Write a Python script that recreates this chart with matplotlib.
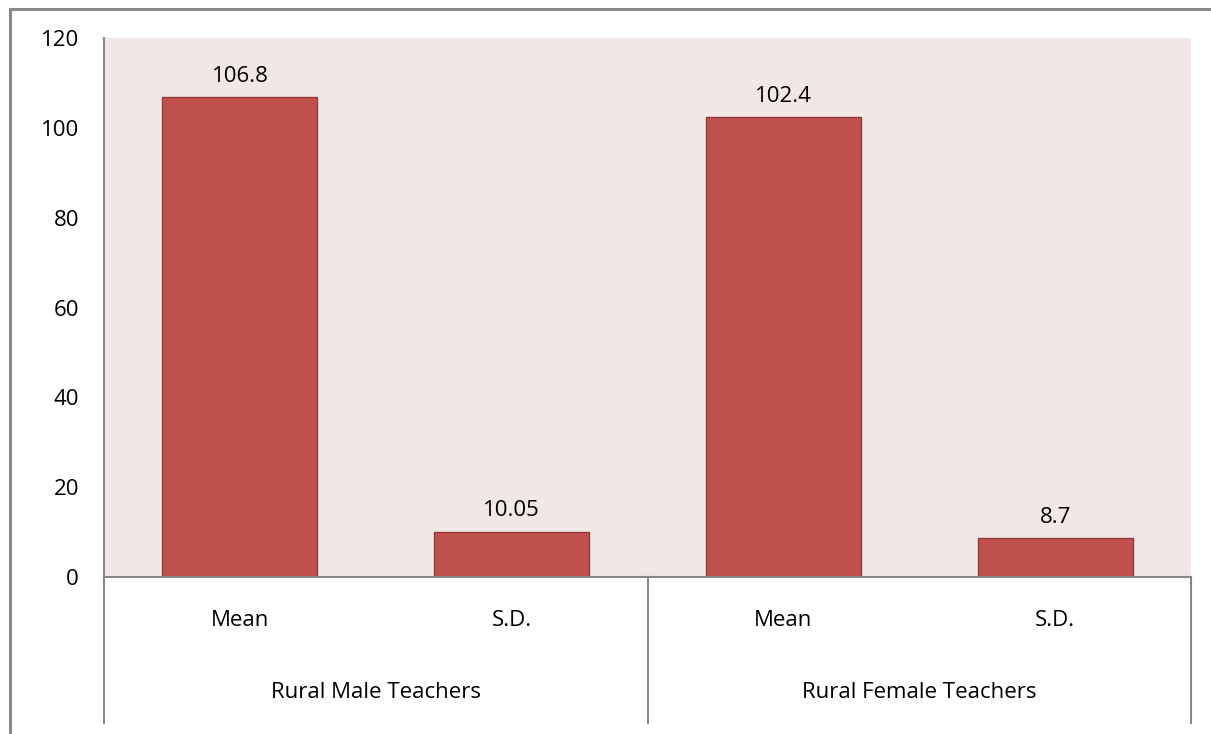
import matplotlib
matplotlib.use("Agg")
import matplotlib.pyplot as plt
from matplotlib.lines import Line2D

groups = ["Rural Male Teachers", "Rural Female Teachers"]
stats = ["Mean", "S.D."]
values = [106.8, 10.05, 102.4, 8.7]
value_labels = ["106.8", "10.05", "102.4", "8.7"]
yticks = [0, 20, 40, 60, 80, 100, 120]

plt.rcParams['font.family'] = ['Open Sans', 'DejaVu Sans']
FS = 16

W, H = 1211, 734
fig = plt.figure(figsize=(W / 100, H / 100), dpi=100)
fig.patch.set_facecolor('white')

# outer chart border (top and left visible)
fig.add_artist(Line2D([9.5 / W, 1.0], [1 - 8.5 / H, 1 - 8.5 / H], transform=fig.transFigure,
                      color='#888888', lw=2.2))
fig.add_artist(Line2D([9.5 / W, 9.5 / W], [0, 1 - 8.5 / H], transform=fig.transFigure,
                      color='#888888', lw=2.2))

left, right, top, bottom = 104, 1191, 38, 577
ax = fig.add_axes([left / W, 1 - bottom / H, (right - left) / W, (bottom - top) / H])
ax.set_facecolor('#F2E7E7')

n = len(values)
xs = list(range(n))
ax.bar(xs, values, width=0.57, color='#C0504D', edgecolor='#8E3A38', linewidth=1.0, zorder=2)
for x, v, lab in zip(xs, values, value_labels):
    ax.annotate(lab, (x, v), xytext=(0, 7.5), textcoords='offset points',
                ha='center', va='bottom', fontsize=FS, color='black')

ax.set_xlim(-0.5, n - 0.5)
ax.set_ylim(0, 120)
ax.set_yticks(yticks)
ax.set_yticklabels([str(t) for t in yticks], fontsize=FS)
ax.tick_params(axis='y', length=0, pad=18)
ax.set_xticks([])

for s in ['top', 'right']:
    ax.spines[s].set_visible(False)
for s in ['left', 'bottom']:
    ax.spines[s].set_color('#878787')
    ax.spines[s].set_linewidth(1.5)

# multi-level category axis
tb = ax.get_xaxis_transform()
ph = bottom - top
y_stat = -(620 - bottom) / ph
y_group = -(693 - bottom) / ph
y_end = -(723 - bottom) / ph
for i, x in enumerate(xs):
    ax.text(x, y_stat, stats[i % len(stats)], transform=tb, ha='center', va='center', fontsize=FS)
for g, name in enumerate(groups):
    cx = g * len(stats) + (len(stats) - 1) / 2
    ax.text(cx, y_group, name, transform=tb, ha='center', va='center', fontsize=FS)
for b in [-0.5, 1.5, 3.5]:
    ax.add_line(Line2D([b, b], [0, y_end], transform=tb, color='#878787', lw=1.5, clip_on=False))

fig.savefig('out.png', dpi=100)
